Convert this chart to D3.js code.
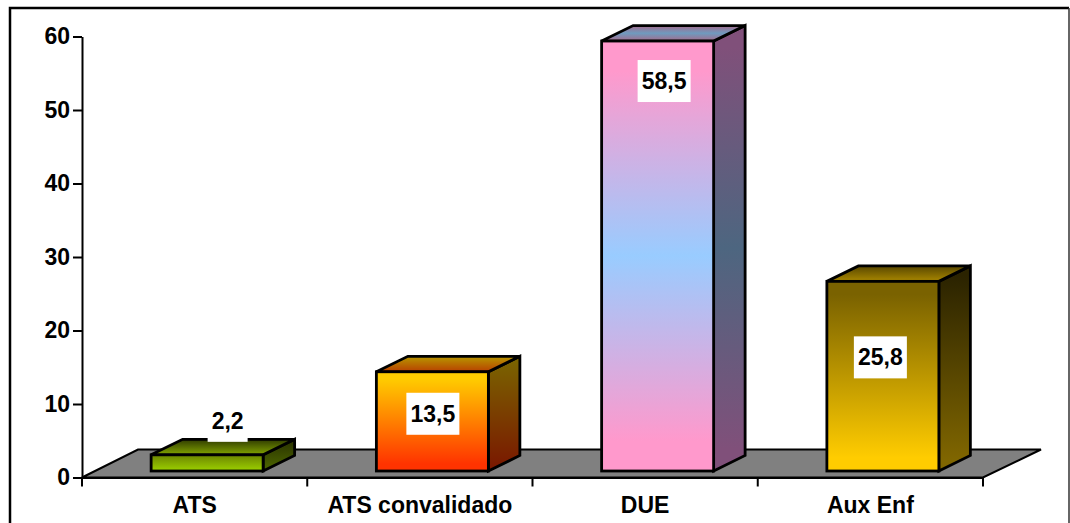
<!DOCTYPE html>
<html>
<head>
<meta charset="utf-8">
<script src="https://cdn.jsdelivr.net/npm/d3@7/dist/d3.min.js"></script>
<style>
html,body{margin:0;padding:0;background:#fff;}
svg{display:block;}
text{font-family:"Liberation Sans",Arial,sans-serif;font-weight:bold;fill:#000;}
</style>
</head>
<body>
<svg id="chart" width="1070" height="523"></svg>
<script>
const categories = ["ATS", "ATS convalidado", "DUE", "Aux Enf"];
const values = [2.2, 13.5, 58.5, 25.8];
const valueLabels = ["2,2", "13,5", "58,5", "25,8"];
const yTicks = [0, 10, 20, 30, 40, 50, 60];
// gradient colours per bar face, top to bottom
const frontStops = [
  ["#6f8a00", "#99cc00"],
  ["#ffcc00", "#ff3300"],
  ["#ff99cc", "#99ccff", "#ff99cc"],
  ["#7a6200", "#ffcc00"]
];
const topStops = [
  ["#334000", "#7f9f00"],
  ["#b89400", "#b84400"],
  ["#a06f90", "#6f9abf", "#a06f90"],
  ["#5c4a00", "#a58400"]
];
const sideStops = [
  ["#2a3300", "#4d6600"],
  ["#7a6200", "#7a1a00"],
  ["#80507a", "#4d6680", "#80507a"],
  ["#2b2300", "#806600"]
];

const svg = d3.select("#chart");
const x = d3.scaleBand().domain(categories).range([82, 983]);
const y = d3.scaleLinear().domain([0, 60]).range([477.5, 36.5]);

// oblique projection offsets
const floorDepth = [58, -28];
const barDepth = [31.5, -15.5];
const barLift = 6.5;   // bars stand inside the floor
const barShift = 12.5; // and sit further back than the tick centre
const barWidth = 112;

const defs = svg.append("defs");
function gradient(id, stops, inset) {
  const g = defs.append("linearGradient").attr("id", id)
    .attr("x1", 0).attr("y1", 0).attr("x2", 0).attr("y2", 1);
  stops.forEach((c, i) => g.append("stop")
    .attr("offset", inset + (1 - 2 * inset) * i / (stops.length - 1))
    .attr("stop-color", c));
}
categories.forEach((c, i) => {
  gradient("front" + i, frontStops[i], 0.07);
  gradient("top" + i, topStops[i], 0.05);
  gradient("side" + i, sideStops[i], 0.05);
});

// outer frame
svg.append("path").attr("d", "M10,523V8H1069")
  .attr("fill", "none").attr("stroke", "#000").attr("stroke-width", 2.5);
svg.append("path").attr("d", "M1069,8V523")
  .attr("fill", "none").attr("stroke", "#333").attr("stroke-width", 1.5);

// floor
const y0 = y(0), xL = x.range()[0], xR = x.range()[1];
svg.append("path")
  .attr("d", d3.line()([[xL, y0], [xL + 56, y0 + floorDepth[1]],
    [xR + floorDepth[0], y0 + floorDepth[1]], [xR, y0]]) + "Z")
  .attr("fill", "#808080").attr("stroke", "#000").attr("stroke-width", 2)
  .attr("stroke-linejoin", "miter");

// axes
const gy = svg.append("g").attr("transform", `translate(${xL},0)`)
  .call(d3.axisLeft(y).tickValues(yTicks).tickSize(9).tickSizeOuter(0).tickPadding(3));
const gx = svg.append("g").attr("transform", `translate(0,${y0})`)
  .call(d3.axisBottom(x).tickSize(0).tickPadding(19));
gx.selectAll(".sep").data(d3.range(categories.length + 1)).enter().append("line")
  .attr("class", "sep")
  .attr("x1", i => xL + i * x.step()).attr("x2", i => xL + i * x.step())
  .attr("y1", 0).attr("y2", 9);
[gy, gx].forEach(g => {
  g.selectAll(".domain").attr("stroke", "#000").attr("stroke-width", 2);
  g.selectAll("line").attr("stroke", "#000").attr("stroke-width", 2);
  g.selectAll("text").attr("font-size", 23)
    .attr("font-family", "Liberation Sans").attr("font-weight", "bold");
});

// bars
svg.selectAll(".bar").data(values).enter().append("g").attr("class", "bar")
  .each(function (v, i) {
    const g = d3.select(this);
    const xa = x(categories[i]) + x.bandwidth() / 2 + barShift - barWidth / 2;
    const xb = xa + barWidth;
    const base = y(0) - barLift, top = y(v) - barLift;
    const [dx, dy] = barDepth;
    const style = s => s.attr("stroke", "#000").attr("stroke-width", 2.8).attr("stroke-linejoin", "miter");
    style(g.append("path")
      .attr("d", d3.line()([[xb, top], [xb + dx, top + dy], [xb + dx, base + dy], [xb, base]]) + "Z")
      .attr("fill", `url(#side${i})`));
    style(g.append("path")
      .attr("d", d3.line()([[xa, top], [xa + dx, top + dy], [xb + dx, top + dy], [xb, top]]) + "Z")
      .attr("fill", `url(#top${i})`));
    style(g.append("rect")
      .attr("x", xa).attr("y", top).attr("width", barWidth).attr("height", base - top)
      .attr("fill", `url(#front${i})`));
  });

// value labels on white plates, placed relative to each bar's top edge
const plateShiftX = [20.5, 0.5, 6.5, -2.5];
const plateShiftY = [-34, 42, 40, 76];
const plateWidths = [40, 53, 53, 53];
const plateHeight = 42;
values.forEach((v, i) => {
  const cx = x(categories[i]) + x.bandwidth() / 2 + barShift + plateShiftX[i];
  const cy = y(v) - barLift + plateShiftY[i];
  svg.append("rect").attr("x", cx - plateWidths[i] / 2).attr("y", cy - plateHeight / 2)
    .attr("width", plateWidths[i]).attr("height", plateHeight).attr("fill", "#fff");
  svg.append("text").attr("x", cx).attr("y", cy)
    .attr("text-anchor", "middle").attr("dominant-baseline", "central")
    .attr("font-size", 23).text(valueLabels[i]);
});
</script>
</body>
</html>
